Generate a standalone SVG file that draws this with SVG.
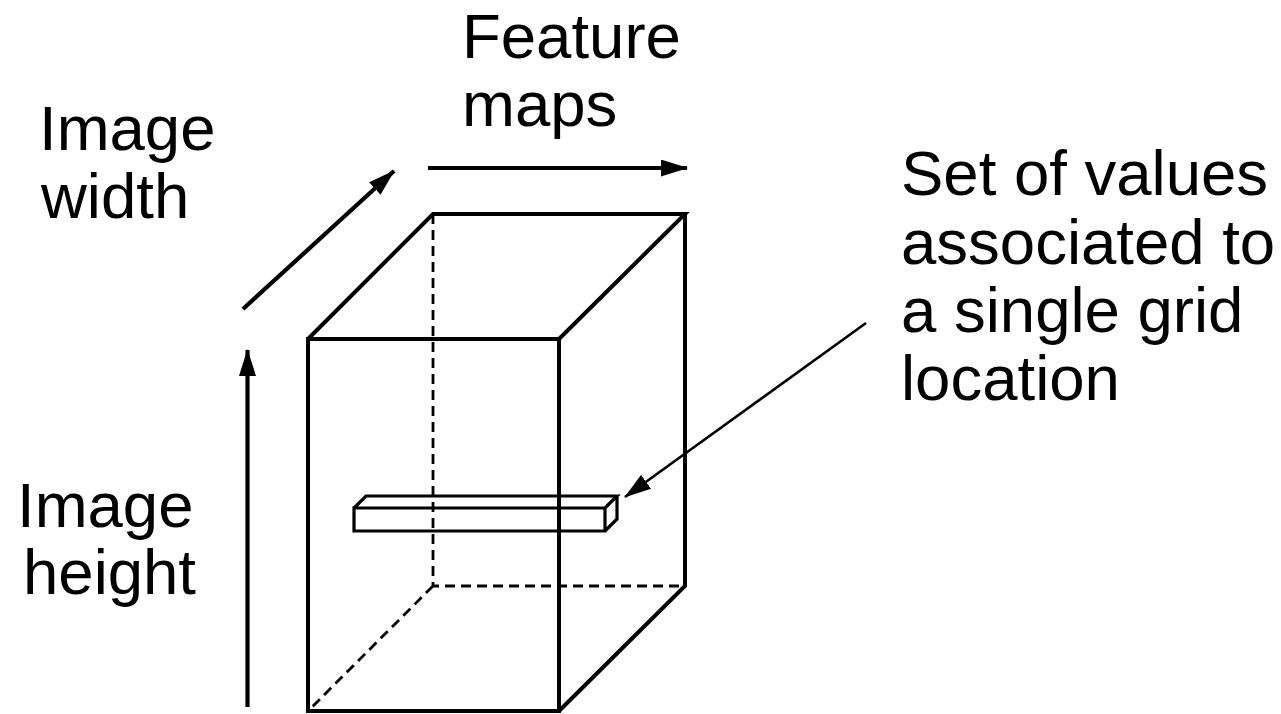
<svg xmlns="http://www.w3.org/2000/svg" width="1281" height="714" viewBox="0 0 1281 714">
  <style>
    .lbl { font-family: "Liberation Sans", Arial, sans-serif; font-size: 63.5px; fill: #000; }
    .edge { fill: none; stroke: #000; stroke-width: 4; stroke-linejoin: miter; }
    .hidden { fill: none; stroke: #000; stroke-width: 2.8; stroke-dasharray: 10 6; }
    .bar { fill: none; stroke: #000; stroke-width: 3.2; }
    .axis { stroke: #000; stroke-width: 4.2; fill: none; }
    .pointer { stroke: #000; stroke-width: 2.6; fill: none; }
  </style>
  <defs>
    <marker id="head" viewBox="0 0 27 17" refX="26" refY="8.5" markerWidth="27" markerHeight="17" markerUnits="userSpaceOnUse" orient="auto">
      <path d="M0,0 L27,8.5 L0,17 Z" fill="#000"/>
    </marker>
  </defs>
  <rect width="1281" height="714" fill="#fff"/>

  <!-- feature volume: hidden edges first -->
  <g id="volume">
    <path class="hidden" d="M433,214 V586 H685 M433,586 L308,711"/>
    <path class="edge" d="M308,339 H559 V711 H308 Z M308,339 L433,214 H685 L559,339 M685,214 V586 L559,711"/>
  </g>

  <!-- one grid location across all feature maps -->
  <g id="cell-column">
    <path class="bar" d="M354,508 H605 V531 H354 Z M354,508 L366,496 H617 L605,508 M617,496 V519 L605,531"/>
  </g>

  <g id="connectors">
    <line class="axis" x1="247.5" y1="707" x2="247.5" y2="350" marker-end="url(#head)"/>
    <line class="axis" x1="243" y1="309" x2="394" y2="171" marker-end="url(#head)"/>
    <line class="axis" x1="428" y1="168" x2="687" y2="168" marker-end="url(#head)"/>
    <line class="pointer" x1="866" y1="323" x2="625" y2="497" marker-end="url(#head)"/>
  </g>

  <g id="label-feature-maps">
    <text class="lbl" x="462" y="58">Feature</text>
    <text class="lbl" x="462" y="126">maps</text>
  </g>
  <g id="label-image-width">
    <text class="lbl" x="39" y="150">Image</text>
    <text class="lbl" x="41" y="218">width</text>
  </g>
  <g id="label-image-height">
    <text class="lbl" x="17" y="527">Image</text>
    <text class="lbl" x="23" y="594">height</text>
  </g>
  <g id="label-cell">
    <text class="lbl" x="901" y="195">Set of values</text>
    <text class="lbl" x="901" y="264">associated to</text>
    <text class="lbl" x="901" y="332">a single grid</text>
    <text class="lbl" x="901" y="400">location</text>
  </g>
</svg>
